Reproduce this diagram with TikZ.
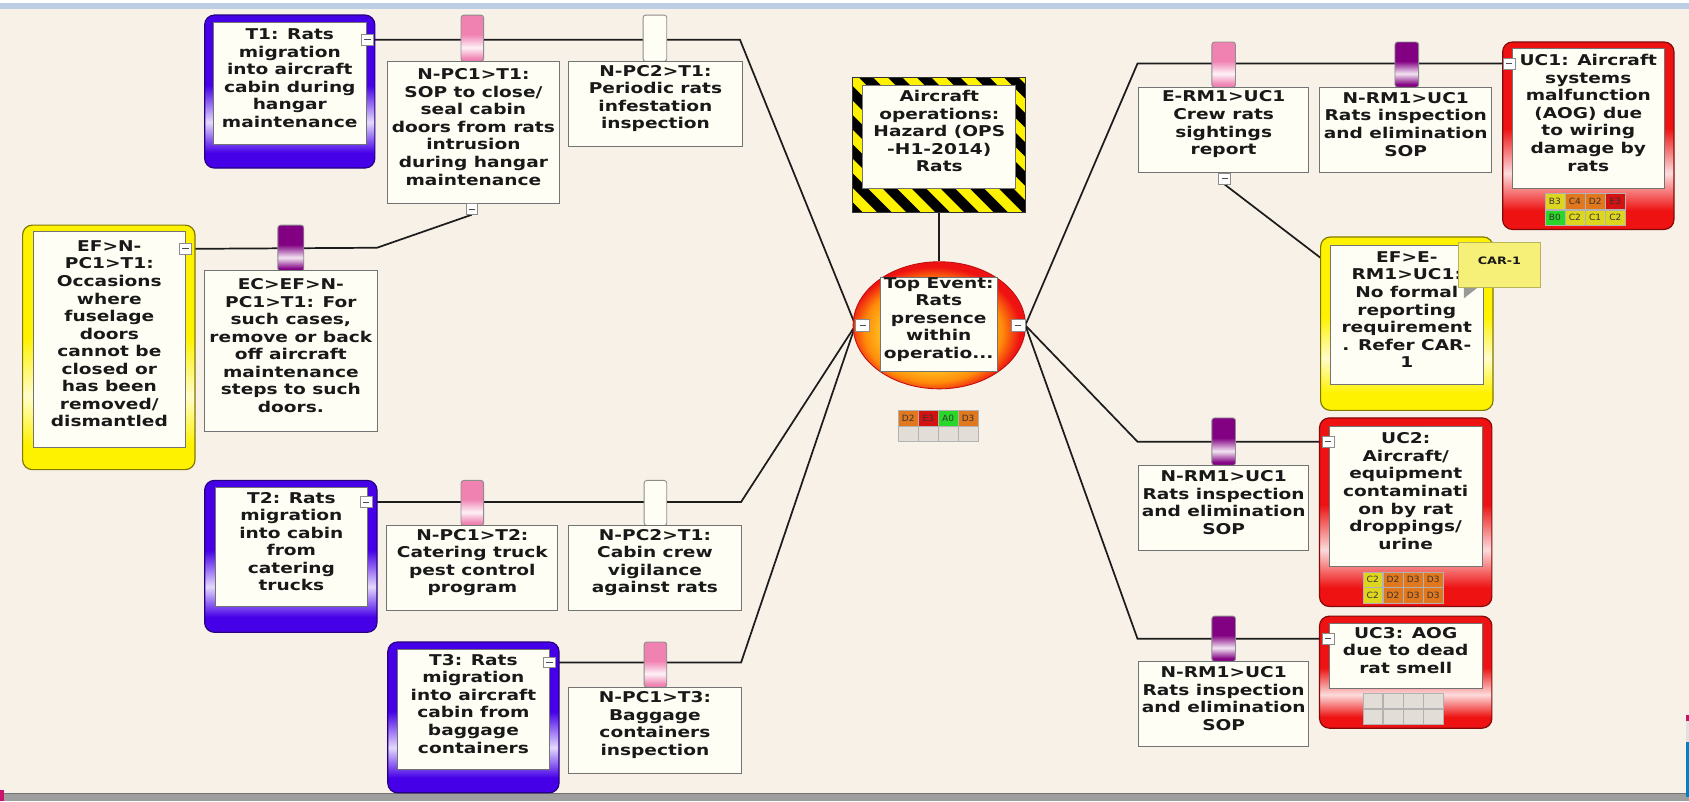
\documentclass[tikz,border=0pt]{standalone}
\usepackage{fontspec}
\newfontfamily\bt[FakeStretch=1.25]{DejaVu Sans}
\newfontfamily\ct[FakeStretch=1.05]{DejaVu Sans}
\usetikzlibrary{fit,shapes.geometric}
\pgfdeclarelayer{bg}
\pgfsetlayers{bg,main}
\definecolor{bgc}{RGB}{248,241,232}
\definecolor{ivory}{RGB}{255,254,244}
\definecolor{pur}{RGB}{70,0,232}
\definecolor{dpur}{RGB}{130,0,130}
\definecolor{cpink}{RGB}{240,130,178}
\definecolor{yel}{RGB}{255,242,0}
\definecolor{rd}{RGB}{238,18,18}
\definecolor{ln}{RGB}{28,28,28}
\definecolor{txt}{RGB}{25,25,25}
\definecolor{noteY}{RGB}{246,240,120}
\definecolor{cG}{RGB}{40,215,40}
\definecolor{cY}{RGB}{222,214,30}
\definecolor{cO}{RGB}{226,120,30}
\definecolor{cR}{RGB}{212,18,18}
\definecolor{cE}{RGB}{226,221,214}
\definecolor{topblue}{RGB}{188,206,228}
\definecolor{barg}{RGB}{158,158,158}
\definecolor{mag}{RGB}{200,20,110}
\definecolor{edgeb}{RGB}{0,130,200}
\definecolor{teyel}{RGB}{255,205,40}
\definecolor{teor}{RGB}{255,140,10}
\pgfdeclareverticalshading{hlpur}{100bp}{color(0bp)=(pur); color(30bp)=(pur); color(40bp)=(white!85!pur); color(52bp)=(pur); color(100bp)=(pur)}
\pgfdeclareverticalshading{hlyel}{100bp}{color(0bp)=(yel); color(30bp)=(yel); color(40bp)=(white!80!yel); color(52bp)=(yel); color(100bp)=(yel)}
\pgfdeclareverticalshading{hlrd}{100bp}{color(0bp)=(rd); color(30bp)=(rd); color(40bp)=(white!85!rd); color(52bp)=(rd); color(100bp)=(rd)}
\pgfdeclareverticalshading{hlpink}{100bp}{color(0bp)=(cpink); color(28bp)=(cpink); color(40bp)=(white!90!cpink); color(54bp)=(cpink); color(100bp)=(cpink)}
\pgfdeclareverticalshading{hldpur}{100bp}{color(0bp)=(dpur); color(28bp)=(dpur); color(40bp)=(white!90!dpur); color(54bp)=(dpur); color(100bp)=(dpur)}
\pgfdeclareradialshading{teshade}{\pgfpoint{-3bp}{-4bp}}{color(0bp)=(teyel); color(13bp)=(teyel); color(20bp)=(teor); color(25bp)=(rd); color(50bp)=(rd)}
\newcommand\bxfont{\bt\bfseries\fontsize{13.8}{16.3}\selectfont}
\newcommand\rcell[5]{\node[rc, fill=#4] (#1) at (#2,#3) {#5};}
\begin{document}
\begin{tikzpicture}[x=1pt,y=-1pt,
  conn/.style={draw=ln, line width=1.6pt},
  frm/.style={rounded corners=9pt, inner sep=0pt, line width=1.1pt},
  ibox/.style={draw=black!55, fill=ivory, inner sep=0pt, line width=0.9pt, align=center, font=\bxfont, text=txt},
  tabp/.style={rounded corners=2.5pt, inner sep=0pt, draw=black!45, line width=0.8pt},
  mn/.style={draw=black!45, fill=white, minimum width=11pt, minimum height=10pt, inner sep=0pt, line width=0.7pt,
    path picture={\draw[black!70, line width=0.8pt] ([xshift=-3pt]path picture bounding box.center) -- ([xshift=3pt]path picture bounding box.center);}},
  rc/.style={draw=black!30, line width=0.5pt, minimum width=18.5pt, minimum height=14.5pt, inner sep=0pt, font=\ct\fontsize{8}{8}\selectfont, text=black!80}
]
\useasboundingbox (0,0) rectangle (1568,744);

% ---------------- left: T1 ----------------
\node[frm, fit={(190,14) (348,156)}, shading=hlpur, draw=pur!55!black] (t1f) {};
\node[ibox, fit={(198,21) (340,134)}] (t1) {T1: Rats\\migration\\into aircraft\\cabin during\\hangar\\maintenance};
\node[mn] (t1m) at (341,37) {};

\node[tabp, fit={(428,14) (449,57)}, shading=hlpink] (tab1) {};
\node[ibox, fit={(360,57) (519,189)}] (npc1) {N-PC1>T1:\\SOP to close/\\seal cabin\\doors from rats\\intrusion\\during hangar\\maintenance};
\node[mn] (npc1m) at (438,194) {};

\node[tabp, fit={(597,14) (619,57)}, fill=ivory] (tab2) {};
\node[ibox, fit={(528,57) (689,136)}] (npc2) {N-PC2>T1:\\Periodic rats\\infestation\\inspection};

% ---------------- left: EF ----------------
\node[frm, fit={(21,209) (181,436)}, shading=hlyel, draw=yel!50!black] (ef1f) {};
\node[ibox, fit={(31,215) (172,415)}] (ef1) {EF>N-\\PC1>T1:\\Occasions\\where\\fuselage\\doors\\cannot be\\closed or\\has been\\removed/\\dismantled};
\node[mn] (efm) at (172,231) {};

\node[tabp, fit={(258,209) (282,252)}, shading=hldpur] (tab3) {};
\node[ibox, fit={(190,251) (350,401)}] (ec) {EC>EF>N-\\PC1>T1: For\\such cases,\\remove or back\\off aircraft\\maintenance\\steps to such\\doors.};

% ---------------- left: T2 ----------------
\node[frm, fit={(190,446) (350,587)}, shading=hlpur, draw=pur!55!black] (t2f) {};
\node[ibox, fit={(200,453) (341,563)}] (t2) {T2: Rats\\migration\\into cabin\\from\\catering\\trucks};
\node[mn] (t2m) at (340,466) {};

\node[tabp, fit={(428,446) (449,488)}, shading=hlpink] (tab4) {};
\node[ibox, fit={(359,488) (518,567)}] (npc1t2) {N-PC1>T2:\\Catering truck\\pest control\\program};

\node[tabp, fit={(598,446) (619,488)}, fill=ivory] (tab5) {};
\node[ibox, fit={(528,488) (688,567)}] (npc2b) {N-PC2>T1:\\Cabin crew\\vigilance\\against rats};

% ---------------- left: T3 ----------------
\node[frm, fit={(360,596) (519,736)}, shading=hlpur, draw=pur!55!black] (t3f) {};
\node[ibox, fit={(369,603) (510,714)}] (t3) {T3: Rats\\migration\\into aircraft\\cabin from\\baggage\\containers};
\node[mn] (t3m) at (510,615) {};

\node[tabp, fit={(598,596) (619,638)}, shading=hlpink] (tab6) {};
\node[ibox, fit={(528,638) (688,718)}] (npc1t3) {N-PC1>T3:\\Baggage\\containers\\inspection};

% ---------------- hazard ----------------
\node[fit={(792,72) (952,197)}, inner sep=0pt, fill=yel] (hz) {};
\begin{scope}
\clip (hz.north west) rectangle (hz.south east);
\foreach \k in {-6,...,7} \draw[black, line width=9.5pt] (792+\k*27,60) -- ++(160,160);
\end{scope}
\draw[black!80, line width=0.9pt] (hz.north west) rectangle (hz.south east);
\node[ibox, fit={(801,79) (943,175)}] (hzi) {Aircraft\\operations:\\Hazard (OPS\\-H1-2014)\\Rats};

% ---------------- top event ----------------
\node[ellipse, minimum width=160pt, minimum height=118pt, inner sep=0pt, shading=teshade, draw=rd!80!black, line width=0.8pt] (te) at (872,302) {};
\node[ibox, fit={(817,258) (926,345)}] (tei) {Top Event:\\Rats\\presence\\within\\operatio...};
\node[mn, minimum width=13pt, minimum height=11pt] (teL) at (801,302) {};
\node[mn, minimum width=13pt, minimum height=11pt] (teR) at (945,302) {};

\rcell{m01}{843.25}{388.25}{cO}{D2}
\rcell{m02}{861.75}{388.25}{cR}{E3}
\rcell{m03}{880.25}{388.25}{cG}{A0}
\rcell{m04}{898.75}{388.25}{cO}{D3}
\rcell{m05}{843.25}{402.75}{cE}{}
\rcell{m06}{861.75}{402.75}{cE}{}
\rcell{m07}{880.25}{402.75}{cE}{}
\rcell{m08}{898.75}{402.75}{cE}{}

% ---------------- right: UC1 ----------------
\node[tabp, fit={(1125,39) (1147,81)}, shading=hlpink] (tab7) {};
\node[ibox, fit={(1057,81) (1215,160)}] (erm) {E-RM1>UC1\\Crew rats\\sightings\\report};
\node[mn] (ermm) at (1137,166) {};

\node[tabp, fit={(1295,39) (1317,81)}, shading=hldpur] (tab8) {};
\node[ibox, fit={(1225,81) (1385,160)}] (nrm1) {N-RM1>UC1\\Rats inspection\\and elimination\\SOP};

\node[frm, fit={(1395,39) (1554,213)}, shading=hlrd, draw=rd!55!black] (uc1f) {};
\node[ibox, fit={(1404,45) (1545,175)}] (uc1) {UC1: Aircraft\\systems\\malfunction\\(AOG) due\\to wiring\\damage by\\rats};
\node[mn] (uc1m) at (1401,59) {};
\rcell{u11}{1443.4}{186.75}{cY}{B3}
\rcell{u12}{1462.1}{186.75}{cO}{C4}
\rcell{u13}{1480.9}{186.75}{cO}{D2}
\rcell{u14}{1499.6}{186.75}{cR}{E3}
\rcell{u15}{1443.4}{202.25}{cG}{B0}
\rcell{u16}{1462.1}{202.25}{cY}{C2}
\rcell{u17}{1480.9}{202.25}{cY}{C1}
\rcell{u18}{1499.6}{202.25}{cY}{C2}

% ---------------- right: EF2 ----------------
\node[frm, fit={(1226,220) (1386,381)}, shading=hlyel, draw=yel!50!black] (ef2f) {};
\node[ibox, fit={(1235,228) (1377,357)}] (ef2) {EF>E-\\RM1>UC1:\\No formal\\reporting\\requirement\\. Refer CAR-\\1};
\fill[black!40] (1359,262) -- (1378,262) -- (1359,277) -- cycle;
\node[fit={(1354,225) (1430,267)}, inner sep=0pt, fill=noteY, draw=noteY!75!black, line width=0.5pt, font=\bt\bfseries\fontsize{9.5}{10}\selectfont, text=txt] (car) {CAR-1};

% ---------------- right: UC2 ----------------
\node[tabp, fit={(1125,388) (1147,432)}, shading=hldpur] (tab9) {};
\node[ibox, fit={(1057,432) (1215,511)}] (nrm2) {N-RM1>UC1\\Rats inspection\\and elimination\\SOP};
\node[frm, fit={(1225,388) (1385,563)}, shading=hlrd, draw=rd!55!black] (uc2f) {};
\node[ibox, fit={(1234,396) (1376,526)}] (uc2) {UC2:\\Aircraft/\\equipment\\contaminati\\on by rat\\droppings/\\urine};
\node[mn] (uc2m) at (1233,410) {};
\rcell{u21}{1274.4}{538.25}{cY}{C2}
\rcell{u22}{1293.1}{538.25}{cO}{D2}
\rcell{u23}{1311.9}{538.25}{cO}{D3}
\rcell{u24}{1330.6}{538.25}{cO}{D3}
\rcell{u25}{1274.4}{552.75}{cY}{C2}
\rcell{u26}{1293.1}{552.75}{cO}{D2}
\rcell{u27}{1311.9}{552.75}{cO}{D3}
\rcell{u28}{1330.6}{552.75}{cO}{D3}

% ---------------- right: UC3 ----------------
\node[tabp, fit={(1125,572) (1147,614)}, shading=hldpur] (tab10) {};
\node[ibox, fit={(1057,614) (1215,693)}] (nrm3) {N-RM1>UC1\\Rats inspection\\and elimination\\SOP};
\node[frm, fit={(1225,572) (1385,676)}, shading=hlrd, draw=rd!55!black] (uc3f) {};
\node[ibox, fit={(1234,579) (1376,639)}] (uc3) {UC3: AOG\\due to dead\\rat smell};
\node[mn] (uc3m) at (1233,593) {};
\rcell{u31}{1274.4}{650.5}{cE}{}
\rcell{u32}{1293.1}{650.5}{cE}{}
\rcell{u33}{1311.9}{650.5}{cE}{}
\rcell{u34}{1330.6}{650.5}{cE}{}
\rcell{u35}{1274.4}{665.5}{cE}{}
\rcell{u36}{1293.1}{665.5}{cE}{}
\rcell{u37}{1311.9}{665.5}{cE}{}
\rcell{u38}{1330.6}{665.5}{cE}{}

% ---------------- background and connectors ----------------
\begin{pgfonlayer}{bg}
\fill[bgc] (0,0) rectangle (1568,744);
\fill[white] (0,0) rectangle (1568,3);
\fill[topblue] (0,3) rectangle (1568,8);
\fill[barg] (0,737) rectangle (1568,744);
\draw[black!55, line width=1pt] (0,737) -- (1568,737);
\fill[mag] (0,733) rectangle (4,744);
\fill[mag] (1565,664) rectangle (1568,669);
\fill[black!12] (1565,669) rectangle (1568,689);
\fill[edgeb] (1565,689) rectangle (1568,740);

\coordinate (cA) at (687,37);
\coordinate (cB) at (688,466);
\coordinate (cC) at (688,615);
\coordinate (cD) at (350,230);
\coordinate (cE) at (1056,59);
\coordinate (cF) at (1056,410);
\coordinate (cG) at (1056,593);
\coordinate (cH) at (1232,244);

\draw[conn] (t1m.east) -- (cA) -- (teL.west);
\draw[conn] (t2m.east) -- (cB) -- (teL.west);
\draw[conn] (t3m.east) -- (cC) -- (teL.west);
\draw[conn] (efm.east) -- (cD) -- (npc1m.south);
\draw[conn] (hz.south) -- (te.north);
\draw[conn] (teR.east) -- (cE) -- (uc1m.west);
\draw[conn] (teR.east) -- (cF) -- (uc2m.west);
\draw[conn] (teR.east) -- (cG) -- (uc3m.west);
\draw[conn] (ermm.south) -- (cH);
\end{pgfonlayer}
\end{tikzpicture}
\end{document}
